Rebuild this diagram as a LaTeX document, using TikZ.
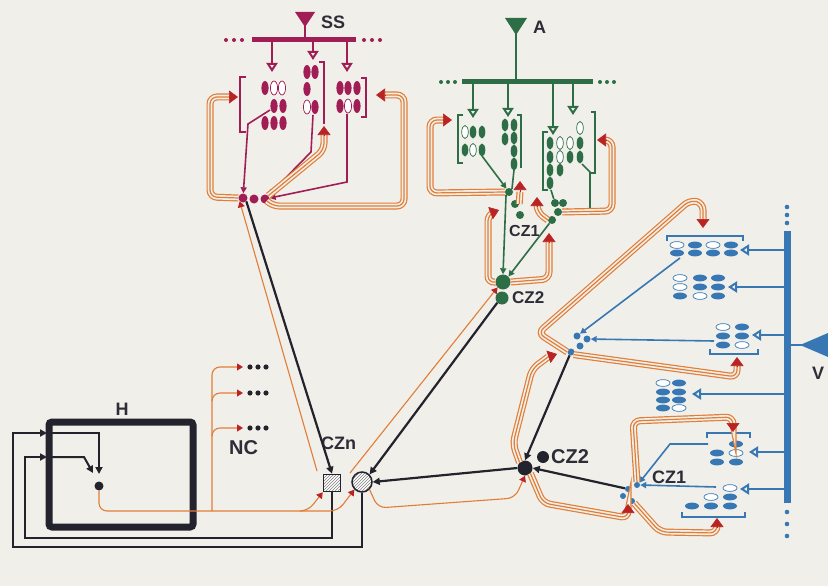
\documentclass[tikz,border=0pt]{standalone}
\usepackage{fontspec}
\setsansfont{Liberation Sans}
\usetikzlibrary{arrows.meta,positioning,patterns,shapes.geometric}

\definecolor{bgc}{RGB}{241,239,233}
\definecolor{magc}{RGB}{160,30,85}
\definecolor{grnc}{RGB}{45,110,70}
\definecolor{bluc}{RGB}{55,120,180}
\definecolor{drkc}{RGB}{35,35,45}
\definecolor{orgc}{RGB}{226,125,55}
\definecolor{redc}{RGB}{185,35,35}
\definecolor{txtc}{RGB}{45,45,55}

\tikzset{
  lbl/.style={font=\sffamily\bfseries\fontsize{#1}{#1}\selectfont, text=txtc, inner sep=0pt},
  lbl/.default=18,
  hubdot/.style={circle, inner sep=0pt, minimum size=#1},
  fb/.style={orgc, line width=7pt, rounded corners=7pt,
    postaction={draw=bgc, line width=4.6pt},
    postaction={draw=orgc, line width=1.2pt}},
  rtip/.style={redc, line width=0.6pt, -{Triangle[width=13pt,length=9pt]}},
  fbthin/.style={orgc, line width=1.1pt, rounded corners=8pt, -{Triangle[width=7pt,length=6pt,color=redc]}},
  blk/.style={drkc, line width=2.2pt, -{Triangle[width=7pt,length=7pt]}},
  mln/.style={line width=1.6pt, -{Triangle[width=6pt,length=6pt]}},
  busarr/.style={line width=2pt, -{Triangle[open,width=11pt,length=9pt]}},
  brk/.style={line width=1.6pt},
  mfill/.style={fill=magc}, mopen/.style={draw=magc, fill=white, line width=0.7pt},
  gfill/.style={fill=grnc}, gopen/.style={draw=grnc, fill=white, line width=0.7pt},
  bfill/.style={fill=bluc}, bopen/.style={draw=bluc, fill=white, line width=0.7pt},
  hatch/.style={draw=drkc, line width=1.5pt, preaction={fill=white}, pattern=north east lines, pattern color=gray}
}

\begin{document}
\begin{tikzpicture}[x=1pt, y=-1pt]
\useasboundingbox (0,0) rectangle (828,586);
\fill[bgc] (0,0) rectangle (828,586);

% SS group
\fill[magc] (295,12) -- (315,12) -- (305,27) -- cycle;
\draw[magc, line width=2pt] (305,26) -- (305,40);
\node[lbl, anchor=west] (ss) at (321,22) {SS};
\draw[magc, line width=5pt] (252,40) -- (356,40);
\foreach \x in {226,234,242,364,372,380} \fill[magc] (\x,40) circle (2pt);
\draw[magc, busarr] (272,40) -- (272,72);
\draw[magc, busarr] (313,40) -- (313,60);
\draw[magc, busarr] (347,40) -- (347,72);
\foreach \x/\y/\s in {265/88/mfill, 274/88/mopen, 282/88/mopen, 274/106/mfill, 283/106/mfill,
    265/123/mfill, 274/123/mfill, 283/123/mfill,
    307/72/mfill, 315/72/mfill, 307/89/mfill, 307/107/mopen, 315/107/mfill,
    340/88/mfill, 348/88/mfill, 357/88/mfill, 340/106/mfill, 348/106/mopen, 357/106/mfill}
  \path[\s] (\x,\y) ellipse (3.6pt and 7pt);
\draw[magc, brk] (246,77) -- (240,77) -- (240,132) -- (246,132);
\draw[magc, brk] (319,62) -- (324,62) -- (324,124);
\draw[magc, brk] (361,78) -- (366,78) -- (366,117) -- (361,117);
\node[hubdot=9pt, fill=magc] (ssa) at (243,198) {};
\node[hubdot=9pt, fill=magc] (ssb) at (254,199) {};
\node[hubdot=9pt, fill=magc] (ssc) at (265,199) {};
\draw[magc, mln] (270,110) -- (248,124) -- (ssa);
\draw[magc, mln] (313,115) -- (311,152) -- (ssc);
\draw[magc, mln] (347,114) -- (347,182) -- (ssc);
\draw[fb] (ssa.west) -- (210,197) -- (210,97) -- (229,97);
\draw[rtip] (229,97) -- (238,97);
\draw[fb] (ssc.south east) -- (272,206) -- (404,206) -- (404,95) -- (385,95);
\draw[rtip] (385,95) -- (376,95);
\draw[fb] (ssc.north east) -- (324,150) -- (324,135);
\draw[rtip] (324,135) -- (324,126);

% A group
\fill[grnc] (505,18) -- (527,18) -- (516,35) -- cycle;
\draw[grnc, line width=2pt] (516,34) -- (516,82);
\node[lbl, anchor=west] (a) at (533,27) {A};
\draw[grnc, line width=5pt] (462,82) -- (593,82);
\foreach \x in {441,448,455,600,607,614} \fill[grnc] (\x,82) circle (2pt);
\draw[grnc, busarr] (473,82) -- (473,118);
\draw[grnc, busarr] (508,82) -- (508,117);
\draw[grnc, busarr] (553,82) -- (553,135);
\draw[grnc, busarr] (573,82) -- (573,115);
\foreach \x/\y/\s in {465/132/gopen, 473/132/gfill, 482/132/gfill, 465/150/gfill, 473/150/gopen, 482/150/gfill,
    505/125/gfill, 514/125/gfill, 505/139/gfill, 514/138/gfill, 514/151/gfill, 514/164/gfill,
    580/128/gopen, 550/143/gfill, 560/143/gopen, 570/143/gopen, 580/143/gfill,
    550/157/gfill, 560/157/gopen, 570/157/gfill, 580/157/gfill,
    550/170/gfill, 560/170/gfill, 550/183/gfill}
  \path[\s] (\x,\y) ellipse (3.3pt and 6.5pt);
\draw[grnc, brk] (463,115) -- (458,115) -- (458,163) -- (463,163);
\draw[grnc, brk] (517,115) -- (521,115) -- (521,168);
\draw[grnc, brk] (548,132) -- (543,132) -- (543,190) -- (548,190);
\draw[grnc, brk] (591,112) -- (595,112) -- (595,173) -- (591,173);
\node[hubdot=8pt, fill=grnc] (gl1) at (509,192) {};
\node[hubdot=8pt, fill=grnc] (gl2) at (515,204) {};
\node[hubdot=8pt, fill=grnc] (gl3) at (520,215) {};
\node[hubdot=8pt, fill=grnc] (gr1) at (555,203) {};
\node[hubdot=8pt, fill=grnc] (gr2) at (563,203) {};
\node[hubdot=8pt, fill=grnc] (gr3) at (558,212) {};
\node[hubdot=8pt, fill=grnc] (gr4) at (552,220) {};
\node[lbl=16, anchor=west] (cz1g) at (509,231) {CZ1};
\node[hubdot=15pt, fill=grnc] (gz2a) at (503,282) {};
\node[hubdot=13pt, fill=grnc] (gz2b) at (502,298) {};
\node[lbl=17, anchor=west] (cz2g) at (512,298) {CZ2};
\draw[grnc, mln] (482,156) -- (gl1);
\draw[grnc, line width=1.6pt] (514,170) -- (gl1.north east);
\draw[grnc, line width=1.6pt] (551,190) -- (gr1);
\draw[grnc, mln] (582,164) -- (590,172) -- (590,210) -- (gr3);
\draw[grnc, mln] (gl1.south west) -- (gz2a.north);
\draw[grnc, mln] (gr4) -- (gz2a.north east);
\draw[fb] (gl1.west) -- (430,193) -- (430,120) -- (443,120);
\draw[rtip] (443,120) -- (452,120);
\draw[fb] (gr3.east) -- (612,211) -- (612,140) -- (606,140);
\draw[rtip] (606,140) -- (597,140);
\draw[fb] (gl2.east) -- (520,192);
\draw[rtip] (520,192) -- (520,181);
\draw[fb] (gr4.west) -- (537,212) -- (537,206);
\draw[rtip] (537,206) -- (537,197);
\draw[fb] (gz2a.west) -- (488,283) -- (488,214) -- (491,213);
\draw[rtip] (491,213) -- (499,210);
\draw[fb] (gz2a.east) -- (549,279) -- (549,242);
\draw[rtip] (549,242) -- (549,233);

% V group
\draw[bluc, line width=7pt] (787,231) -- (787,503);
\foreach \y in {207,215,223,512,524,536} \fill[bluc] (787,\y) circle (2.3pt);
\draw[bluc, line width=2pt] (787,345) -- (802,345);
\fill[bluc] (800,345) -- (828,333) -- (828,357) -- cycle;
\node[lbl, anchor=west] (v) at (812,373) {V};
\draw[bluc, busarr] (784,250) -- (740,250);
\draw[bluc, busarr] (784,287) -- (728,287);
\draw[bluc, busarr] (784,335) -- (752,335);
\draw[bluc, busarr] (784,394) -- (692,394);
\draw[bluc, busarr] (784,452) -- (749,452);
\draw[bluc, busarr] (784,489) -- (740,489);
\foreach \x/\y/\s in {677/245/bopen, 695/245/bfill, 713/245/bopen, 731/245/bfill,
    677/253/bfill, 695/253/bfill, 713/253/bfill, 731/253/bfill,
    680/278/bopen, 700/278/bfill, 718/278/bfill, 680/287/bopen, 700/287/bfill, 718/287/bfill,
    680/296/bfill, 700/296/bopen, 718/296/bfill,
    723/327/bopen, 742/327/bfill, 723/336/bfill, 742/336/bfill, 723/345/bfill, 742/345/bopen,
    663/383/bopen, 679/383/bfill, 663/392/bfill, 679/392/bfill, 663/400/bfill, 679/400/bfill,
    663/408/bfill, 679/408/bopen,
    736/444/bfill, 717/453/bfill, 736/453/bopen, 717/462/bfill, 736/462/bfill,
    730/488/bopen, 711/497/bopen, 730/497/bfill, 692/506/bfill, 711/506/bfill, 730/506/bfill}
  \path[\s] (\x,\y) ellipse (7pt and 3.4pt);
\draw[bluc, brk] (667,241) -- (667,236) -- (743,236) -- (743,241);
\draw[bluc, brk] (710,349) -- (710,354) -- (758,354) -- (758,349);
\draw[bluc, brk] (707,438) -- (707,433) -- (750,433) -- (750,438);
\draw[bluc, brk] (682,512) -- (682,517) -- (745,517) -- (745,512);
\node[hubdot=7pt, fill=bluc] (bh1) at (577,336) {};
\node[hubdot=7pt, fill=bluc] (bh2) at (587,339) {};
\node[hubdot=7pt, fill=bluc] (bh3) at (580,346) {};
\node[hubdot=7pt, fill=bluc] (bh4) at (571,352) {};
\node[hubdot=6pt, fill=bluc] (bc1) at (637,485) {};
\node[hubdot=6pt, fill=bluc] (bc2) at (628,489) {};
\node[hubdot=6pt, fill=bluc] (bc3) at (623,496) {};
\node[hubdot=6pt, fill=bluc] (bc4) at (632,501) {};
\node[lbl, anchor=west] (cz1v) at (652,477) {CZ1};
\draw[bluc, mln] (680,258) -- (bh1);
\draw[bluc, mln] (714,341) -- (bh2);
\draw[bluc, mln] (708,444) -- (670,444) -- (bc1.north east);
\draw[bluc, mln] (716,487) -- (bc1.east);
\draw[fb] (bh4.west) -- (538,333) -- (690,200) -- (703,203) -- (703,219);
\draw[rtip] (703,219) -- (703,228);
\draw[fb] (bh4.south east) -- (737,377) -- (737,366);
\draw[rtip] (737,366) -- (737,357);
\draw[fb] (bc1.north) -- (633,421) -- (733,417) -- (733,423);
\draw[rtip] (733,423) -- (733,432);
\draw[fb] (bc4.south east) -- (660,532) -- (717,533) -- (717,527);
\draw[rtip] (717,527) -- (717,518);

% CZ2 and CZn
\node[hubdot=15pt, fill=drkc] (cz2) at (525,468) {};
\node[hubdot=12pt, fill=drkc] (cz2s) at (543,457) {};
\node[lbl=20, anchor=west] (cz2l) at (551,457) {CZ2};
\node[hatch, minimum size=17pt, inner sep=0pt] (sq) at (332,483) {};
\node[hatch, circle, minimum size=20pt, inner sep=0pt] (cir) at (362,482) {};
\node[lbl, anchor=west] (czn) at (321,443) {CZn};
\coordinate (fsq) at (317,471);
\coordinate (fci) at (350,473);
\draw[fb] (cz2.north west) -- (513,444) -- (532,369) -- (548,357);
\draw[rtip] (548,357) -- (557,354);
\draw[fb] (cz2.south east) -- (543,503) -- (628,518) -- (628,512);
\draw[rtip] (628,512) -- (628,504);
\draw[blk] (bh4) -- (cz2.north);
\draw[blk] (bc2) -- (cz2.east);
\draw[blk] (cz2.west) -- (cir.east);
\draw[blk] (gz2b.south west) -- (cir.north east);
\draw[blk] (ssa.south east) -- (sq.north);
\draw[fbthin] (fsq) -- (ssa.south west);
\draw[fbthin] (fci) -- (gz2a.south west);
\draw[fbthin] (cir.south east) -- (378,508) -- (515,498) -- (cz2.south);

% H and NC
\draw[drkc, line width=7pt, rounded corners=3pt] (49,422) rectangle (193,527);
\node[lbl] (h) at (122,409) {H};
\node[hubdot=9pt, fill=drkc] (hd) at (99,486) {};
\draw[blk, line width=2pt] (sq.south) |- (25,538) |- (47,457);
\draw[blk, line width=2pt] (cir.south) |- (13,547) |- (47,433);
\draw[blk, line width=2pt] (52,433) -- (99,433) -- (99,474);
\draw[blk, line width=2pt] (52,457) -- (84,457) -- (93,473);
\draw[fbthin] (hd.south) -- (99,511) -- (308,511) -- (sq.south west);
\draw[fbthin] (300,511) -- (338,511) -- (cir.south west);
\draw[fbthin] (212,511) -- (212,367) -- (243,367);
\draw[fbthin] (212,400) -- (212,393) -- (243,393);
\draw[fbthin] (212,435) -- (212,428) -- (243,428);
\foreach \y in {367,393,428} \foreach \x in {250,258,266} \fill[drkc] (\x,\y) circle (2.6pt);
\node[lbl=20, anchor=west] (nc) at (229,448) {NC};
\end{tikzpicture}
\end{document}
